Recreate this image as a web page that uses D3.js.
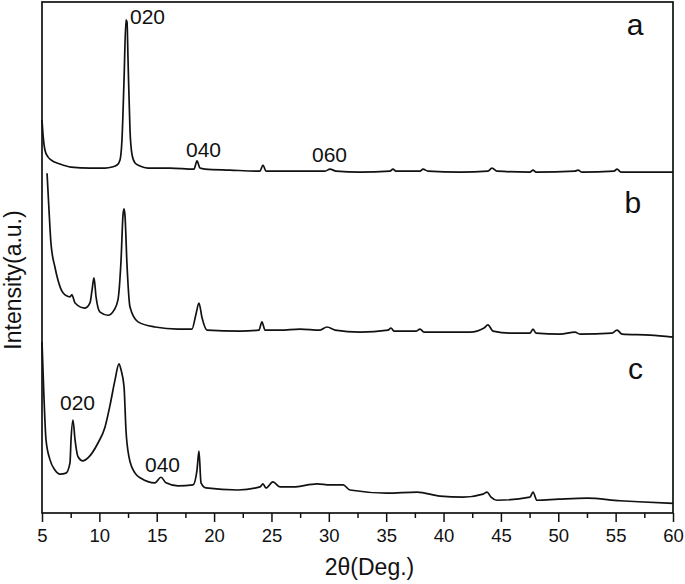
<!DOCTYPE html>
<html>
<head>
<meta charset="utf-8">
<script src="https://cdn.jsdelivr.net/npm/d3@7"></script>
<style>
  body { margin: 0; background: #fff; }
  text { font-family: "Liberation Sans", Arial, sans-serif; }
</style>
</head>
<body>
<div id="chart-container"></div>
<script>

//Data: 2theta (deg) and stacked intensity (a.u.) for each pattern

const thetaA = [5.00,5.09,5.26,5.52,5.78,6.57,7.53,9.18,10.49,11.10,11.54,11.80,11.97,12.15,12.32,12.41,12.50,12.67,12.85,13.11,13.54,14.24,16.16,18.25,18.51,18.77,19.21,21.39,24.00,24.26,24.52,26.62,29.67,30.10,30.63,32.72,35.33,35.59,35.85,37.95,38.21,38.64,41.43,43.87,44.22,44.66,47.53,47.80,48.06,51.46,51.72,52.07,54.86,55.12,55.47,60.00];
const intensityA = [76.9,74.0,71.0,69.7,69.1,68.3,67.7,67.5,67.5,67.7,68.1,69.1,73.0,84.7,96.5,96.1,88.6,74.9,70.1,68.5,67.9,67.5,67.5,67.3,68.9,67.5,67.3,67.1,66.9,68.1,66.9,66.9,66.9,67.3,66.9,66.7,66.9,67.3,66.9,66.9,67.3,66.9,66.7,66.9,67.5,66.9,66.7,67.1,66.7,66.9,67.1,66.7,66.9,67.3,66.7,66.7];

const thetaB = [5.44,5.61,5.78,6.13,6.39,6.83,7.44,7.61,7.88,8.75,9.18,9.36,9.53,9.71,10.06,10.75,11.28,11.62,11.89,12.06,12.15,12.23,12.41,12.67,13.37,14.85,16.85,18.07,18.42,18.68,18.95,19.38,22.26,23.91,24.17,24.44,25.74,27.49,29.23,29.84,30.54,32.72,35.16,35.42,35.68,37.60,37.95,38.30,42.31,43.53,43.87,44.31,45.79,47.53,47.80,48.06,50.15,51.46,51.89,54.68,55.12,55.56,58.00,60.00];
const intensityB = [66.5,59.3,52.8,48.1,45.6,43.1,42.3,42.7,41.1,40.1,41.1,43.6,46.0,42.3,39.3,38.7,39.7,41.7,49.5,58.3,59.5,58.3,48.5,40.3,37.4,36.4,36.0,36.0,38.9,41.1,38.2,35.8,35.6,35.8,37.4,35.8,35.8,36.0,35.8,36.4,35.8,35.4,35.8,36.2,35.6,35.6,36.0,35.4,35.4,36.2,36.8,35.6,35.2,35.2,36.0,35.2,35.0,35.4,35.0,35.2,35.8,35.0,34.8,34.4];

const thetaC = [5.00,5.17,5.35,5.70,6.13,6.57,7.09,7.44,7.53,7.70,7.88,8.14,8.57,9.01,9.88,10.49,10.93,11.36,11.71,11.89,12.15,12.32,12.58,13.11,13.63,14.85,15.37,15.81,16.85,18.16,18.51,18.68,18.86,19.29,22.08,24.00,24.26,24.52,25.13,25.74,26.88,28.97,30.10,31.24,31.85,35.07,37.69,39.69,41.69,43.44,43.79,44.14,44.66,47.53,47.80,48.14,50.00,52.50,55.38,57.00,60.00];
const intensityC = [33.5,22.7,14.3,10.4,8.4,7.6,7.8,9.8,14.3,18.2,14.3,11.0,10.2,10.8,13.7,16.8,21.1,26.0,29.2,28.0,24.7,16.2,11.0,7.8,6.8,5.9,7.0,5.9,5.3,5.5,8.4,12.1,5.9,4.9,4.5,5.1,5.7,4.9,6.1,5.1,5.1,5.7,5.5,5.5,4.5,3.9,4.1,3.3,3.1,3.7,4.1,3.1,2.5,3.1,4.1,2.5,2.7,2.9,2.4,2.2,1.9];

const majorTicks = [5,10,15,20,25,30,35,40,45,50,55,60];
const minorTicks = [7.5,12.5,17.5,22.5,27.5,32.5,37.5,42.5,47.5,52.5,57.5];

const seriesLabels = [
  { text: "a", x: 56.69, y: 93.5 },
  { text: "b", x: 56.51, y: 58.7 },
  { text: "c", x: 56.73, y: 26.2 }
];
const peakLabels = [
  { text: "020", x: 12.67, y: 95.7 },
  { text: "040", x: 17.55, y: 69.7 },
  { text: "060", x: 28.53, y: 68.7 },
  { text: "020", x: 6.57, y: 20.2 },
  { text: "040", x: 13.98, y: 8.0 }
];

//Set dimensions and margins for the chart

const margin = { top: 2, right: 12, bottom: 71, left: 42 };
const width = 685 - margin.left - margin.right;
const height = 584 - margin.top - margin.bottom;

const x = d3.scaleLinear().domain([5, 60]).range([0, width]);
const y = d3.scaleLinear().domain([0, 100]).range([height, 0]);

const svg = d3.select("#chart-container")
  .append("svg")
    .attr("width", width + margin.left + margin.right)
    .attr("height", height + margin.top + margin.bottom)
  .append("g")
    .attr("transform", `translate(${margin.left},${margin.top})`);

//Traces

const line = d3.line()
  .x(d => x(d[0]))
  .y(d => y(d[1]))
  .curve(d3.curveMonotoneX);

const traces = [
  d3.zip(thetaA, intensityA),
  d3.zip(thetaB, intensityB),
  d3.zip(thetaC, intensityC)
];

svg.selectAll(".trace")
  .data(traces)
  .join("path")
  .attr("class", "trace")
  .attr("d", line)
  .attr("fill", "none")
  .attr("stroke", "#111")
  .attr("stroke-width", 1.7)
  .attr("stroke-linejoin", "round");

//Frame

svg.append("rect")
  .attr("width", width)
  .attr("height", height)
  .attr("fill", "none")
  .attr("stroke", "#111")
  .attr("stroke-width", 1.7);

//x axis with minor ticks

svg.append("g")
  .attr("transform", `translate(0,${height})`)
  .call(d3.axisBottom(x).tickValues(minorTicks).tickSize(5).tickFormat(""))
  .call(g => g.select(".domain").remove())
  .selectAll("line").attr("stroke", "#111").attr("stroke-width", 1.5);

const xAxis = svg.append("g")
  .attr("transform", `translate(0,${height})`)
  .call(d3.axisBottom(x).tickValues(majorTicks).tickSize(9).tickPadding(7).tickFormat(d3.format("d")));
xAxis.select(".domain").remove();
xAxis.selectAll("line").attr("stroke", "#111").attr("stroke-width", 1.5);
xAxis.selectAll("text")
  .attr("fill", "#111")
  .style("font-size", "18.5px")
  .style("font-family", "Liberation Sans, Arial, sans-serif");

//Axis titles

svg.append("text")
  .attr("x", width / 2 + 12)
  .attr("y", height + 62)
  .attr("text-anchor", "middle")
  .style("font-size", "23px")
  .attr("fill", "#111")
  .text("2θ(Deg.)");

svg.append("text")
  .attr("transform", "rotate(-90)")
  .attr("x", -278)
  .attr("y", -21.5)
  .attr("text-anchor", "middle")
  .style("font-size", "23px")
  .attr("fill", "#111")
  .text("Intensity(a.u.)");

//Labels

svg.selectAll(".series-label")
  .data(seriesLabels)
  .join("text")
  .attr("class", "series-label")
  .attr("x", d => x(d.x))
  .attr("y", d => y(d.y))
  .attr("text-anchor", "middle")
  .style("font-size", "30px")
  .attr("fill", "#111")
  .text(d => d.text);

svg.selectAll(".peak-label")
  .data(peakLabels)
  .join("text")
  .attr("class", "peak-label")
  .attr("x", d => x(d.x))
  .attr("y", d => y(d.y))
  .style("font-size", "21px")
  .attr("fill", "#111")
  .text(d => d.text);

</script>
</body>
</html>
